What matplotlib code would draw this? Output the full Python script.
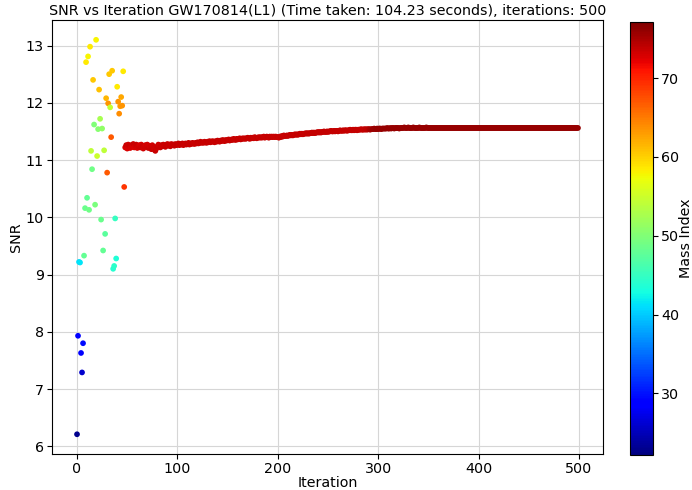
import matplotlib
matplotlib.use('Agg')
import matplotlib.pyplot as plt

# early exploration phase, iterations 0..47
early_iter = list(range(48))
early_snr = [6.21, 7.93, 9.22, 9.21, 7.63, 7.29, 7.80, 9.33, 10.16, 12.71,
             10.34, 12.81, 10.13, 12.98, 11.16, 10.84, 12.40, 11.62, 10.22, 13.10,
             11.07, 11.54, 12.23, 11.72, 9.96, 11.55, 9.42, 11.17, 9.71, 12.08,
             10.78, 11.99, 12.50, 11.92, 11.40, 12.56, 9.10, 9.15, 9.98, 9.28,
             12.28, 12.02, 11.81, 11.94, 12.10, 11.95, 12.55, 10.53]
early_mass = [23.0, 29.0, 41.0, 41.5, 28.5, 26.0, 29.5, 48.0, 48.5, 58.5,
              48.0, 58.0, 49.0, 58.5, 54.0, 49.0, 60.5, 50.0, 49.5, 58.0,
              55.0, 50.5, 61.0, 52.5, 48.5, 51.0, 48.0, 54.0, 47.5, 61.5,
              67.0, 63.5, 60.5, 54.5, 67.0, 60.5, 44.0, 44.5, 45.0, 43.5,
              58.5, 63.5, 64.0, 63.0, 62.5, 63.5, 58.5, 69.0]

# converged phase, iterations 48..499
line_snr = [
    11.22, 11.26, 11.20, 11.27, 11.24, 11.21, 11.26, 11.23, 11.28, 11.22,
    11.25, 11.27, 11.21, 11.24, 11.26, 11.22, 11.27, 11.25, 11.20, 11.24,
    11.26, 11.23, 11.27, 11.21, 11.25, 11.24, 11.19, 11.26, 11.22, 11.18,
    11.16, 11.20, 11.24, 11.27, 11.25, 11.22, 11.26, 11.24, 11.27, 11.25,
    11.23, 11.26, 11.28, 11.25, 11.27, 11.24, 11.28, 11.26, 11.27, 11.25,
    11.28, 11.26, 11.27, 11.29, 11.26, 11.28, 11.27, 11.29, 11.26, 11.28,
    11.29, 11.27, 11.28, 11.30, 11.27, 11.29, 11.28, 11.30, 11.29, 11.28,
    11.30, 11.29, 11.31, 11.29, 11.30, 11.32, 11.30, 11.31, 11.30, 11.32,
    11.31, 11.30, 11.32, 11.31, 11.33, 11.31, 11.32, 11.33, 11.32, 11.31,
    11.33, 11.32, 11.34, 11.33, 11.32, 11.34, 11.33, 11.35, 11.34, 11.33,
    11.35, 11.34, 11.35, 11.36, 11.34, 11.35, 11.36, 11.35, 11.37, 11.36,
    11.35, 11.37, 11.36, 11.37, 11.38, 11.36, 11.37, 11.38, 11.37, 11.38,
    11.37, 11.38, 11.39, 11.38, 11.37, 11.39, 11.38, 11.39, 11.38, 11.40,
    11.39, 11.38, 11.39, 11.40, 11.39, 11.40, 11.39, 11.40, 11.41, 11.39,
    11.40, 11.41, 11.40, 11.39, 11.41, 11.40, 11.41, 11.40, 11.41, 11.40,
    11.41, 11.40, 11.40, 11.39, 11.41, 11.40, 11.42, 11.41, 11.43, 11.42,
    11.42, 11.43, 11.42, 11.43, 11.44, 11.43, 11.44, 11.43, 11.44, 11.45,
    11.44, 11.45, 11.44, 11.45, 11.46, 11.45, 11.46, 11.45, 11.46, 11.46,
    11.47, 11.46, 11.47, 11.46, 11.47, 11.47, 11.48, 11.47, 11.48, 11.47,
    11.48, 11.48, 11.49, 11.48, 11.49, 11.48, 11.49, 11.49, 11.50, 11.49,
    11.49, 11.50, 11.49, 11.50, 11.50, 11.51, 11.50, 11.50, 11.51, 11.50,
    11.51, 11.51, 11.50, 11.51, 11.52, 11.51, 11.51, 11.52, 11.51, 11.52,
    11.52, 11.51, 11.52, 11.52, 11.53, 11.52, 11.52, 11.53, 11.52, 11.53,
    11.53, 11.52, 11.53, 11.53, 11.53, 11.54, 11.53, 11.53, 11.54, 11.53,
    11.54, 11.53, 11.54, 11.54, 11.53, 11.54, 11.54, 11.54, 11.55, 11.54,
    11.54, 11.55, 11.54, 11.55, 11.55, 11.54, 11.55, 11.55, 11.55, 11.55,
    11.55, 11.56, 11.55, 11.55, 11.56, 11.55, 11.56, 11.56, 11.55, 11.56,
    11.56, 11.56, 11.56, 11.55, 11.56, 11.56, 11.56, 11.56, 11.57, 11.56,
    11.56, 11.56, 11.57, 11.56, 11.56, 11.56, 11.56, 11.57, 11.56, 11.56,
    11.56, 11.56, 11.56, 11.57, 11.56, 11.56, 11.56, 11.56, 11.56, 11.56,
    11.57, 11.56, 11.56, 11.56, 11.56, 11.56, 11.56, 11.56, 11.56, 11.56,
    11.56, 11.56, 11.56, 11.56, 11.56, 11.56, 11.56, 11.56, 11.56, 11.56,
    11.56, 11.56, 11.56, 11.56, 11.56, 11.56, 11.56, 11.56, 11.56, 11.56,
    11.56, 11.56, 11.56, 11.56, 11.56, 11.56, 11.56, 11.56, 11.56, 11.56,
    11.56, 11.56, 11.56, 11.56, 11.56, 11.56, 11.56, 11.56, 11.56, 11.56,
    11.56, 11.56, 11.56, 11.56, 11.56, 11.56, 11.56, 11.56, 11.56, 11.56,
    11.56, 11.56, 11.56, 11.56, 11.56, 11.56, 11.56, 11.56, 11.56, 11.56,
    11.56, 11.56, 11.56, 11.56, 11.56, 11.56, 11.56, 11.56, 11.56, 11.56,
    11.56, 11.56, 11.56, 11.56, 11.56, 11.56, 11.56, 11.56, 11.56, 11.56,
    11.56, 11.56, 11.56, 11.56, 11.56, 11.56, 11.56, 11.56, 11.56, 11.56,
    11.56, 11.56, 11.56, 11.56, 11.56, 11.56, 11.56, 11.56, 11.56, 11.56,
    11.56, 11.56, 11.56, 11.56, 11.56, 11.56, 11.56, 11.56, 11.56, 11.56,
    11.56, 11.56, 11.56, 11.56, 11.56, 11.56, 11.56, 11.56, 11.56, 11.56,
    11.56, 11.56, 11.56, 11.56, 11.56, 11.56, 11.56, 11.56, 11.56, 11.56,
    11.56, 11.56, 11.56, 11.56, 11.56, 11.56, 11.56, 11.56, 11.56, 11.56,
    11.56, 11.56]
line_mass = [
    72.9, 73.5, 72.6, 73.2, 73.6, 72.9, 73.3, 73.0, 73.5, 72.8,
    73.2, 73.6, 72.9, 73.3, 73.0, 73.4, 72.8, 73.5, 73.1, 73.3,
    73.0, 73.4, 73.2, 73.5, 72.9, 73.3, 73.6, 73.1, 73.4, 73.2,
    73.5, 73.3, 73.6, 73.4, 73.2, 73.5, 73.6, 73.4, 73.5, 73.3,
    73.5, 73.6, 73.5, 73.4, 73.6, 73.5, 73.4, 73.6, 73.7, 73.5,
    73.6, 73.5, 73.7, 73.6, 73.5, 73.7, 73.6, 73.7, 73.6, 73.5,
    73.6, 73.5, 73.7, 73.6, 73.5, 73.7, 73.6, 73.7, 73.6, 73.5,
    73.6, 73.5, 73.7, 73.6, 73.5, 73.7, 73.6, 73.7, 73.6, 73.5,
    73.6, 73.5, 73.7, 73.6, 73.5, 73.7, 73.6, 73.7, 73.6, 73.5,
    73.6, 73.5, 73.7, 73.6, 73.5, 73.7, 73.6, 73.7, 73.6, 73.5,
    73.6, 73.5, 73.7, 73.6, 73.5, 73.7, 73.6, 73.7, 73.6, 73.5,
    73.6, 73.5, 73.7, 73.6, 73.5, 73.7, 73.6, 73.7, 73.6, 73.5,
    73.6, 73.5, 73.7, 73.6, 73.5, 73.7, 73.6, 73.7, 73.6, 73.5,
    73.6, 73.5, 73.7, 73.6, 73.5, 73.7, 73.6, 73.7, 73.6, 73.5,
    73.6, 73.5, 73.7, 73.6, 73.5, 73.7, 73.6, 73.7, 73.6, 73.5,
    73.6, 73.5, 73.7, 73.6, 73.5, 73.7, 73.6, 73.7, 73.6, 73.5,
    73.6, 73.7, 73.7, 73.6, 73.7, 73.7, 73.6, 73.7, 73.7, 73.6,
    73.6, 73.7, 73.7, 73.6, 73.7, 73.7, 73.6, 73.7, 73.7, 73.6,
    73.7, 73.7, 73.8, 73.7, 73.7, 73.8, 73.7, 73.7, 73.8, 73.7,
    73.7, 73.7, 73.8, 73.7, 73.7, 73.8, 73.7, 73.7, 73.8, 73.7,
    73.7, 73.8, 73.8, 73.7, 73.8, 73.8, 73.7, 73.8, 73.8, 73.7,
    73.7, 73.8, 73.8, 73.7, 73.8, 73.8, 73.7, 73.8, 73.8, 73.7,
    73.8, 73.8, 73.8, 73.8, 73.8, 73.8, 73.8, 73.8, 73.8, 73.8,
    73.8, 73.8, 73.8, 73.8, 73.8, 73.8, 73.8, 73.8, 73.8, 73.8,
    73.9, 74.0, 74.2,
    74.6, 75.0, 75.3, 75.5, 75.6, 75.7, 75.8, 75.9, 76.0, 76.0,
    76.0, 76.0, 76.0, 76.0, 76.0, 76.0, 76.0, 76.0, 76.0, 76.0,
    76.0, 76.0, 76.0, 76.0, 76.0, 76.0, 76.0, 76.0, 76.0, 76.0,
    76.0, 76.0, 76.0, 76.0, 76.0, 76.0, 76.0, 76.0, 76.0, 76.0,
    76.0, 76.0, 76.0, 76.0, 76.0, 76.0, 76.0, 76.0, 76.0, 76.0,
    76.0, 76.0, 76.0, 76.0, 76.0, 76.0, 76.0, 76.0, 76.0, 76.0,
    76.0, 76.0, 76.0, 76.0, 76.0, 76.0, 76.0, 76.0, 76.0, 76.0,
    76.0, 76.0, 76.0, 76.0, 76.0, 76.0, 76.0, 76.0, 76.0, 76.0,
    76.0, 76.0, 76.0, 76.0, 76.0, 76.0, 76.0, 76.0, 76.0, 76.0,
    76.0, 76.0, 76.0, 76.0, 76.0, 76.0, 76.0, 76.0, 76.0, 76.0,
    76.0, 76.0, 76.0, 76.0, 76.0, 76.0, 76.0, 76.0, 76.0, 76.0,
    76.0, 76.0, 76.0, 76.0, 76.0, 76.0, 76.0, 76.0, 76.0, 76.0,
    76.0, 76.0, 76.0, 76.0, 76.0, 76.0, 76.0, 76.0, 76.0, 76.0,
    76.0, 76.0, 76.0, 76.0, 76.0, 76.0, 76.0, 76.0, 76.0, 76.0,
    76.0, 76.0, 76.0, 76.0, 76.0, 76.0, 76.0, 76.0, 76.0, 76.0,
    76.0, 76.0, 76.0, 76.0, 76.0, 76.0, 76.0, 76.0, 76.0, 76.0,
    76.0, 76.0, 76.0, 76.0, 76.0, 76.0, 76.0, 76.0, 76.0, 76.0,
    76.0, 76.0, 76.0, 76.0, 76.0, 76.0, 76.0, 76.0, 76.0, 76.0,
    76.0, 76.0, 76.0, 76.0, 76.0, 76.0, 76.0, 76.0, 76.0, 76.0,
    76.0, 76.0, 76.0, 76.0, 76.0, 76.0, 76.0, 76.0, 76.0, 76.0,
    76.0, 76.0, 76.0, 76.0, 76.0, 76.0, 76.0, 76.0, 76.0]
line_iter = list(range(48, 48 + len(line_snr)))

iterations = early_iter + line_iter
snr = early_snr + line_snr
mass = early_mass + line_mass[:len(line_snr)]

mass_min, mass_max = 22.2, 77.1

fig = plt.figure(figsize=(6.92, 4.9), dpi=100)
ax = fig.add_axes([0.0751, 0.0735, 0.7963, 0.8855])
cax = fig.add_axes([0.910, 0.0714, 0.034, 0.8836])

sc = ax.scatter(iterations, snr, c=mass, cmap='jet', vmin=mass_min, vmax=mass_max,
                s=17, linewidths=0)

ax.set_title('SNR vs Iteration GW170814(L1) (Time taken: 104.23 seconds), iterations: 500',
             fontsize=10.3, pad=4)
ax.set_xlabel('Iteration', fontsize=10.3, labelpad=0)
ax.set_ylabel('SNR', fontsize=10.3, labelpad=2)
ax.tick_params(labelsize=10.3, pad=2.5)
ax.set_yticks([6, 7, 8, 9, 10, 11, 12, 13])
ax.grid(True, color='#d6d6d6', linewidth=0.8)
ax.set_axisbelow(True)

cb = fig.colorbar(sc, cax=cax)
cb.set_label('Mass Index', fontsize=10.3, labelpad=0)
cb.ax.tick_params(labelsize=10.3, pad=2)
cb.set_ticks([30, 40, 50, 60, 70])

fig.savefig('out.png', dpi=100)
